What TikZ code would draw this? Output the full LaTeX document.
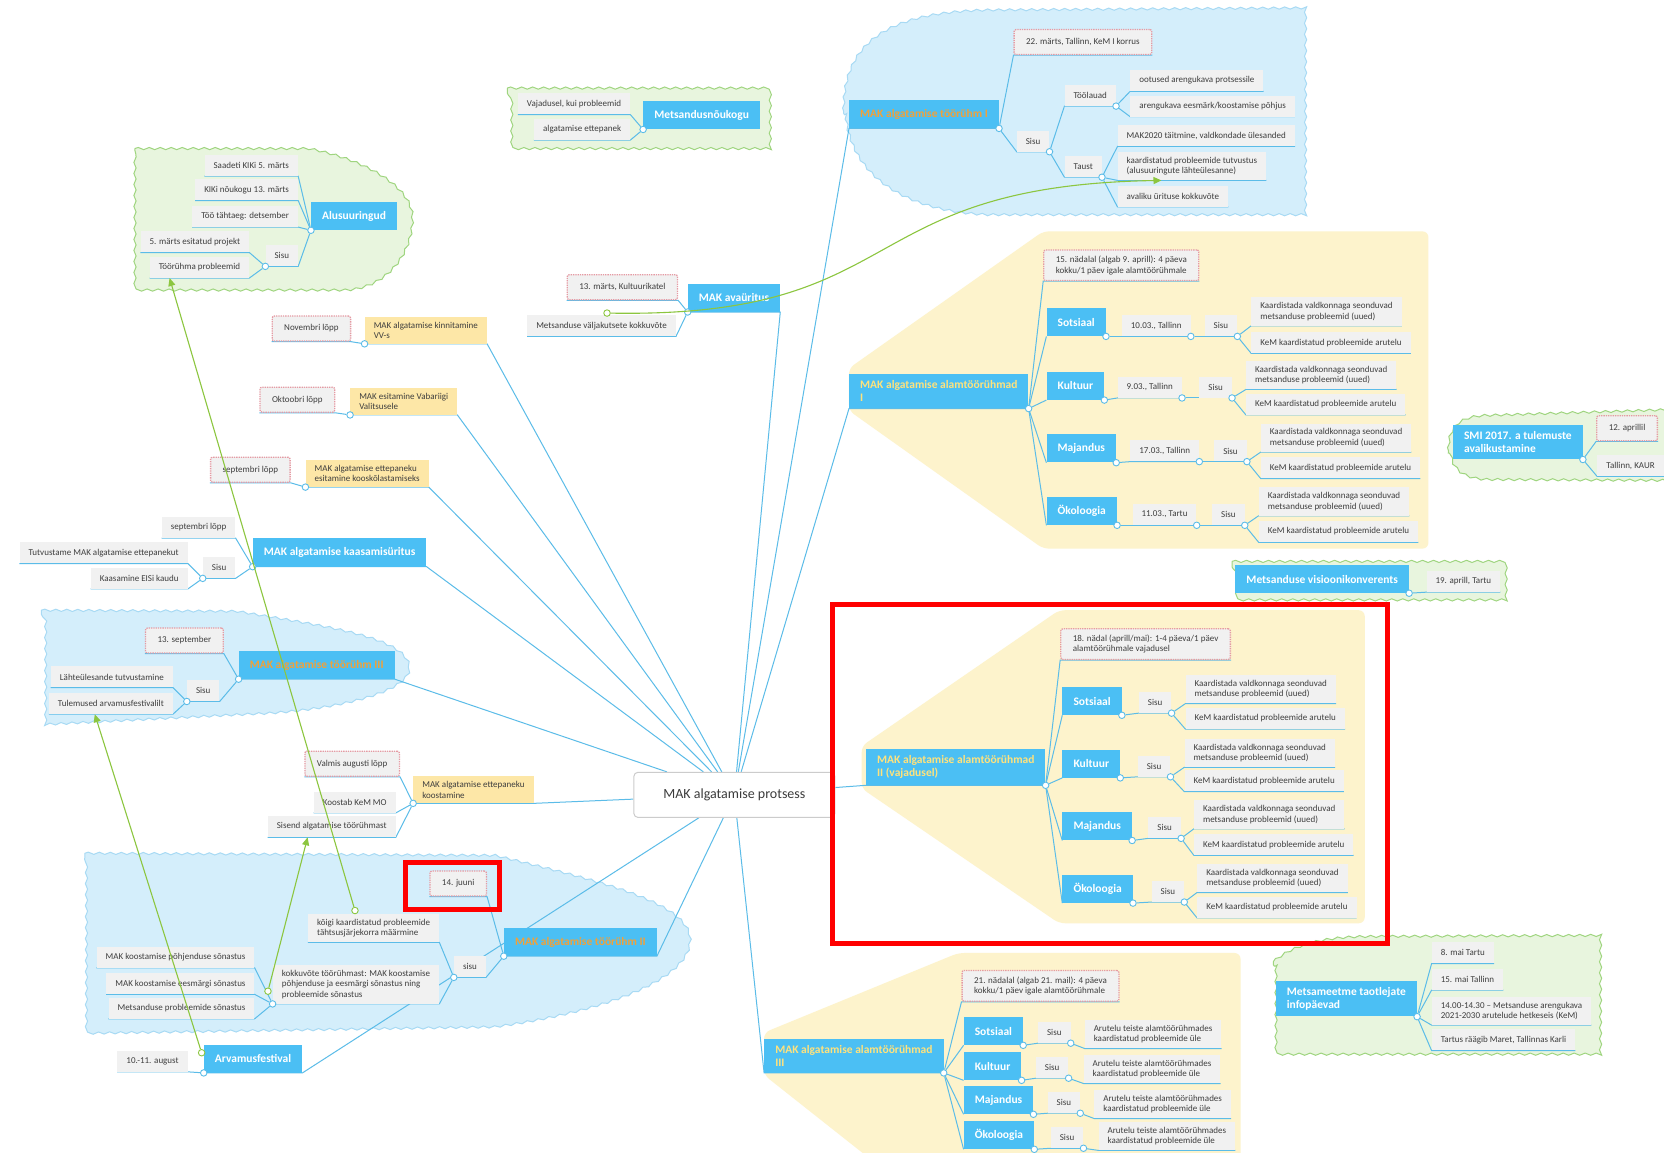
\documentclass[tikz,border=0pt]{standalone}
\usepackage{fontspec}
\setmainfont{Carlito}
\usetikzlibrary{arrows.meta,decorations.pathmorphing}
\pgfdeclarelayer{bg}
\pgfsetlayers{bg,main}
\definecolor{topicblue}{HTML}{4BBFF4}
\definecolor{lineblue}{HTML}{5BBCE8}
\definecolor{subgray}{HTML}{F1F1F1}
\definecolor{subtext}{HTML}{3E3E3E}
\definecolor{datered}{HTML}{E59AA3}
\definecolor{noteyellow}{HTML}{FDE7A7}
\definecolor{zoneyellow}{HTML}{FDF3CC}
\definecolor{orangetext}{HTML}{F0A13A}
\definecolor{yellowtext}{HTML}{FFE27C}
\definecolor{cloudb}{HTML}{D4EEFB}
\definecolor{cloudbline}{HTML}{A8DAF4}
\definecolor{cloudg}{HTML}{E8F5DE}
\definecolor{cloudgline}{HTML}{9FD57F}
\definecolor{relgreen}{HTML}{8CC63F}
\definecolor{roottext}{HTML}{3C3C3C}

\begin{document}
\begin{tikzpicture}[x=1.0612pt, y=-1.0612pt,
  central/.style={draw=gray!40, fill=white, rounded corners=4pt, line width=1pt, minimum width=201pt, minimum height=45pt, font=\fontsize{14}{16}\selectfont, text=roottext},
  sub/.style={fill=subgray, text=subtext, font=\fontsize{9}{10.5}\selectfont, inner xsep=9pt, inner ysep=5pt, minimum height=21pt, align=left},
  dat/.style={sub, draw=datered, densely dotted, line width=1.3pt, rounded corners=2pt, inner xsep=12pt, inner ysep=6pt, minimum height=25pt},
  note/.style={sub, fill=noteyellow},
  topic/.style={fill=topicblue, text=white, font=\fontsize{11.5}{13}\selectfont\bfseries, inner xsep=11pt, inner ysep=6.5pt, minimum height=28pt, align=left},
  otopic/.style={topic, text=orangetext},
  ytopic/.style={topic, text=yellowtext},
  jn/.style={circle, draw=lineblue, fill=white, line width=0.9pt, inner sep=0pt, minimum size=6.5pt},
  gdot/.style={circle, draw=relgreen, fill=white, line width=0.9pt, inner sep=0pt, minimum size=6.5pt},
  conn/.style={draw=lineblue, line width=1pt},
  rel/.style={draw=relgreen, line width=1.1pt, -{Triangle[length=8pt,width=7pt]}},
  bcloud/.style={fill=cloudb, draw=cloudbline, line width=1pt, decorate, decoration={snake, segment length=11pt, amplitude=1.1pt}},
  gcloud/.style={bcloud, fill=cloudg, draw=cloudgline},
  zone/.style={fill=zoneyellow, rounded corners=6pt},
  redbox/.style={draw=red, line width=5pt}]
\useasboundingbox (0,0) rectangle (1568,1086);

\node[central] (root) at (692,749) {MAK algatamise protsess};

% Alusuuringud
\node[topic, anchor=south west] (alu) at (293,217) {Alusuuringud};
\node[sub, anchor=south east] (alu1) at (281,166) {Saadeti KIKi 5. märts};
\node[sub, anchor=south east] (alu2) at (281,189) {KIKi nõukogu 13. märts};
\node[sub, anchor=south east] (alu3) at (281,214) {Töö tähtaeg: detsember};
\node[sub, anchor=south east] (alusisu) at (281,251) {Sisu};
\node[sub, anchor=south east] (alu4) at (235,238) {5. märts esitatud projekt};
\node[sub, anchor=south east] (alu5) at (235,262) {Töörühma probleemid};

% Metsandusnõukogu
\node[topic, anchor=south west] (mnk) at (606,122) {Metsandusnõukogu};
\node[sub, anchor=south east] (mnk1) at (594,108) {Vajadusel, kui probleemid};
\node[sub, anchor=south east] (mnk2) at (594,132) {algatamise ettepanek};

% avaüritus
\node[topic, anchor=south west] (ava) at (648,294) {MAK avaüritus};
\node[dat, anchor=south east] (ava1) at (639,283) {13. märts, Kultuurikatel};
\node[sub, anchor=south east] (ava2) at (637,317) {Metsanduse väljakutsete kokkuvõte};

% töörühm I
\node[otopic, anchor=south west] (tr1) at (800,121) {MAK algatamise töörühm I};
\node[dat, anchor=south west] (tr1a) at (955,52) {22. märts, Tallinn, KeM I korrus};
\node[sub, anchor=south west] (tr1s) at (958,143) {Sisu};
\node[sub, anchor=south west] (tr1t) at (1003,100) {Töölauad};
\node[sub, anchor=south west] (tr1u) at (1003,167) {Taust};
\node[sub, anchor=south west] (tr1t1) at (1065,86) {ootused arengukava protsessile};
\node[sub, anchor=south west] (tr1t2) at (1065,110) {arengukava eesmärk/koostamise põhjus};
\node[sub, anchor=south west] (tr1u1) at (1053,138) {MAK2020 täitmine, valdkondade ülesanded};
\node[sub, anchor=south west] (tr1u2) at (1053,170) {kaardistatud probleemide tutvustus\\(alusuuringute lähteülesanne)};
\node[sub, anchor=south west] (tr1u3) at (1053,195) {avaliku ürituse kokkuvõte};

% alamtöörühmad I
\node[ytopic, anchor=south west] (at1) at (800,385) {MAK algatamise alamtöörühmad\\I};
\node[dat, anchor=south west] (at1a) at (983,265) {15. nädalal (algab 9. aprill): 4 päeva\\kokku/1 päev igale alamtöörühmale};
\node[topic, anchor=south west] (so1) at (986,317) {Sotsiaal};
\node[sub, anchor=south west] (so1d) at (1057,317) {10.03., Tallinn};
\node[sub, anchor=south west] (so1s) at (1135,317) {Sisu};
\node[sub, anchor=south west] (so1k) at (1179,307) {Kaardistada valdkonnaga seonduvad\\metsanduse probleemid (uued)};
\node[sub, anchor=south west] (so1m) at (1179,333) {KeM kaardistatud probleemide arutelu};
\node[topic, anchor=south west] (ku1) at (986,377) {Kultuur};
\node[sub, anchor=south west] (ku1d) at (1053,375) {9.03., Tallinn};
\node[sub, anchor=south west] (ku1s) at (1130,375) {Sisu};
\node[sub, anchor=south west] (ku1k) at (1174,367) {Kaardistada valdkonnaga seonduvad\\metsanduse probleemid (uued)};
\node[sub, anchor=south west] (ku1m) at (1174,391) {KeM kaardistatud probleemide arutelu};
\node[topic, anchor=south west] (ma1) at (986,436) {Majandus};
\node[sub, anchor=south west] (ma1d) at (1065,435) {17.03., Tallinn};
\node[sub, anchor=south west] (ma1s) at (1144,435) {Sisu};
\node[sub, anchor=south west] (ma1k) at (1188,426) {Kaardistada valdkonnaga seonduvad\\metsanduse probleemid (uued)};
\node[sub, anchor=south west] (ma1m) at (1188,451) {KeM kaardistatud probleemide arutelu};
\node[topic, anchor=south west] (ok1) at (986,495) {Ökoloogia};
\node[sub, anchor=south west] (ok1d) at (1067,495) {11.03., Tartu};
\node[sub, anchor=south west] (ok1s) at (1142,495) {Sisu};
\node[sub, anchor=south west] (ok1k) at (1186,486) {Kaardistada valdkonnaga seonduvad\\metsanduse probleemid (uued)};
\node[sub, anchor=south west] (ok1m) at (1186,511) {KeM kaardistatud probleemide arutelu};

% SMI, visioonikonverents
\node[topic, anchor=south west] (smi) at (1369,433) {SMI 2017. a tulemuste\\avalikustamine};
\node[dat, anchor=south west] (smi1) at (1504,416) {12. aprillil};
\node[sub, anchor=south west] (smi2) at (1505,449) {Tallinn, KAUR};
\node[topic, anchor=south west] (vis) at (1164,559) {Metsanduse visioonikonverents};
\node[sub, anchor=south west] (vis1) at (1344,558) {19. aprill, Tartu};

% alamtöörühmad II
\node[ytopic, anchor=south west] (at2) at (816,740) {MAK algatamise alamtöörühmad\\II (vajadusel)};
\node[dat, anchor=south west] (at2a) at (999,622) {18. nädal (aprill/mai): 1-4 päeva/1 päev\\alamtöörühmale vajadusel};
\node[topic, anchor=south west] (so2) at (1001,674) {Sotsiaal};
\node[sub, anchor=south west] (so2s) at (1073,672) {Sisu};
\node[sub, anchor=south west] (so2k) at (1117,663) {Kaardistada valdkonnaga seonduvad\\metsanduse probleemid (uued)};
\node[sub, anchor=south west] (so2m) at (1117,687) {KeM kaardistatud probleemide arutelu};
\node[topic, anchor=south west] (ku2) at (1001,733) {Kultuur};
\node[sub, anchor=south west] (ku2s) at (1072,732) {Sisu};
\node[sub, anchor=south west] (ku2k) at (1116,723) {Kaardistada valdkonnaga seonduvad\\metsanduse probleemid (uued)};
\node[sub, anchor=south west] (ku2m) at (1116,746) {KeM kaardistatud probleemide arutelu};
\node[topic, anchor=south west] (ma2) at (1001,792) {Majandus};
\node[sub, anchor=south west] (ma2s) at (1082,790) {Sisu};
\node[sub, anchor=south west] (ma2k) at (1125,781) {Kaardistada valdkonnaga seonduvad\\metsanduse probleemid (uued)};
\node[sub, anchor=south west] (ma2m) at (1125,806) {KeM kaardistatud probleemide arutelu};
\node[topic, anchor=south west] (ok2) at (1001,851) {Ökoloogia};
\node[sub, anchor=south west] (ok2s) at (1085,850) {Sisu};
\node[sub, anchor=south west] (ok2k) at (1128,841) {Kaardistada valdkonnaga seonduvad\\metsanduse probleemid (uued)};
\node[sub, anchor=south west] (ok2m) at (1128,865) {KeM kaardistatud probleemide arutelu};

% alamtöörühmad III
\node[ytopic, anchor=south west] (at3) at (720,1011) {MAK algatamise alamtöörühmad\\III};
\node[dat, anchor=south west] (at3a) at (906,944) {21. nädalal (algab 21. mail): 4 päeva\\kokku/1 päev igale alamtöörühmale};
\node[topic, anchor=south west] (so3) at (908,985) {Sotsiaal};
\node[sub, anchor=south west] (so3s) at (978,983) {Sisu};
\node[sub, anchor=south west] (so3a) at (1022,988) {Arutelu teiste alamtöörühmades\\kaardistatud probleemide üle};
\node[topic, anchor=south west] (ku3) at (908,1018) {Kultuur};
\node[sub, anchor=south west] (ku3s) at (976,1016) {Sisu};
\node[sub, anchor=south west] (ku3a) at (1021,1021) {Arutelu teiste alamtöörühmades\\kaardistatud probleemide üle};
\node[topic, anchor=south west] (ma3) at (908,1050) {Majandus};
\node[sub, anchor=south west] (ma3s) at (987,1049) {Sisu};
\node[sub, anchor=south west] (ma3a) at (1031,1054) {Arutelu teiste alamtöörühmades\\kaardistatud probleemide üle};
\node[topic, anchor=south west] (ok3) at (908,1083) {Ökoloogia};
\node[sub, anchor=south west] (ok3s) at (990,1082) {Sisu};
\node[sub, anchor=south west] (ok3a) at (1035,1084) {Arutelu teiste alamtöörühmades\\kaardistatud probleemide üle};

% Metsameetme infopäevad
\node[topic, anchor=south west] (mm) at (1202,958) {Metsameetme taotlejate\\infopäevad};
\node[sub, anchor=south west] (mm1) at (1349,908) {8. mai Tartu};
\node[sub, anchor=south west] (mm2) at (1349,933) {15. mai Tallinn};
\node[sub, anchor=south west] (mm3) at (1349,966) {14.00-14.30 – Metsanduse arengukava\\2021-2030 arutelude hetkeseis (KeM)};
\node[sub, anchor=south west] (mm4) at (1349,990) {Tartus räägib Maret, Tallinnas Karli};

% vasak pool
\node[note, anchor=south east] (kinn) at (459,324) {MAK algatamise kinnitamine\\VV-s};
\node[dat, anchor=south east] (kinn1) at (331,322) {Novembri lõpp};
\node[note, anchor=south east] (vv) at (431,391) {MAK esitamine Vabariigi\\Valitsusele};
\node[dat, anchor=south east] (vv1) at (316,389) {Oktoobri lõpp};
\node[note, anchor=south east] (koos) at (404,459) {MAK algatamise ettepaneku\\esitamine kooskõlastamiseks};
\node[dat, anchor=south east] (koos1) at (274,455) {septembri lõpp};
\node[topic, anchor=south east] (kaas) at (402,534) {MAK algatamise kaasamisüritus};
\node[sub, anchor=south east] (kaas1) at (222,507) {septembri lõpp};
\node[sub, anchor=south east] (kaassisu) at (222,545) {Sisu};
\node[sub, anchor=south east] (kaas2) at (177,531) {Tutvustame MAK algatamise ettepanekut};
\node[sub, anchor=south east] (kaas3) at (177,555) {Kaasamine EISi kaudu};

\node[otopic, anchor=south east] (tr3) at (372,640) {MAK algatamise töörühm III};
\node[dat, anchor=south east] (tr3a) at (211,616) {13. september};
\node[sub, anchor=south east] (tr3s) at (207,661) {Sisu};
\node[sub, anchor=south east] (tr3s1) at (163,648) {Lähteülesande tutvustamine};
\node[sub, anchor=south east] (tr3s2) at (163,673) {Tulemused arvamusfestivalilt};

\node[note, anchor=south east] (ett) at (503,757) {MAK algatamise ettepaneku\\koostamine};
\node[dat, anchor=south east] (ett1) at (377,732) {Valmis augusti lõpp};
\node[sub, anchor=south east] (ett2) at (373,766) {Koostab KeM MO};
\node[sub, anchor=south east] (ett3) at (373,789) {Sisend algatamise töörühmast};

\node[otopic, anchor=south east] (tr2) at (619,901) {MAK algatamise töörühm II};
\node[dat, anchor=south east] (tr2a) at (459,845) {14. juuni};
\node[sub, anchor=south east] (tr2s) at (458,921) {sisu};
\node[sub, anchor=south east] (tr2s1) at (414,888) {kõigi kaardistatud probleemide\\tähtsusjärjekorra määrmine};
\node[sub, anchor=south east] (tr2s2) at (414,946) {kokkuvõte töörühmast: MAK koostamise\\põhjenduse ja eesmärgi sõnastus ning\\probleemide sõnastus};
\node[sub, anchor=south east] (tr2k1) at (240,912) {MAK koostamise põhjenduse sõnastus};
\node[sub, anchor=south east] (tr2k2) at (240,937) {MAK koostamise eesmärgi sõnastus};
\node[sub, anchor=south east] (tr2k3) at (240,960) {Metsanduse probleemide sõnastus};
\node[topic, anchor=south east] (arv) at (285,1011) {Arvamusfestival};
\node[sub, anchor=south east] (arv1) at (177,1010) {10.-11. august};

% junctions
\node[jn] (jalu) at (alu.south west) {};
\node[jn] (jalusisu) at (alusisu.south west) {};
\node[jn] (jmnk) at (mnk.south west) {};
\node[jn] (java) at (ava.south west) {};
\node[jn] (jkinn) at (kinn.south west) {};
\node[jn] (jvv) at (vv.south west) {};
\node[jn] (jkoos) at (koos.south west) {};
\node[jn] (jkaas) at (kaas.south west) {};
\node[jn] (jkaassisu) at (kaassisu.south west) {};
\node[jn] (jtr3) at (tr3.south west) {};
\node[jn] (jtr3s) at (tr3s.south west) {};
\node[jn] (jett) at (ett.south west) {};
\node[jn] (jtr2) at (tr2.south west) {};
\node[jn] (jtr2s) at (tr2s.south west) {};
\node[jn] (jtr2s2) at (tr2s2.south west) {};
\node[jn] (jarv) at (arv.south west) {};
\node[jn] (jtr1) at (tr1.south east) {};
\node[jn] (jtr1s) at (tr1s.south east) {};
\node[jn] (jtr1t) at (tr1t.south east) {};
\node[jn] (jtr1u) at (tr1u.south east) {};
\node[jn] (jat1) at (at1.south east) {};
\node[jn] (jso1) at (so1.south east) {};
\node[jn] (jso1d) at (so1d.south east) {};
\node[jn] (jso1s) at (so1s.south east) {};
\node[jn] (jku1) at (ku1.south east) {};
\node[jn] (jku1d) at (ku1d.south east) {};
\node[jn] (jku1s) at (ku1s.south east) {};
\node[jn] (jma1) at (ma1.south east) {};
\node[jn] (jma1d) at (ma1d.south east) {};
\node[jn] (jma1s) at (ma1s.south east) {};
\node[jn] (jok1) at (ok1.south east) {};
\node[jn] (jok1d) at (ok1d.south east) {};
\node[jn] (jok1s) at (ok1s.south east) {};
\node[jn] (jsmi) at (smi.south east) {};
\node[jn] (jvis) at (vis.south east) {};
\node[jn] (jat2) at (at2.south east) {};
\node[jn] (jso2) at (so2.south east) {};
\node[jn] (jso2s) at (so2s.south east) {};
\node[jn] (jku2) at (ku2.south east) {};
\node[jn] (jku2s) at (ku2s.south east) {};
\node[jn] (jma2) at (ma2.south east) {};
\node[jn] (jma2s) at (ma2s.south east) {};
\node[jn] (jok2) at (ok2.south east) {};
\node[jn] (jok2s) at (ok2s.south east) {};
\node[jn] (jat3) at (at3.south east) {};
\node[jn] (jso3) at (so3.south east) {};
\node[jn] (jso3s) at (so3s.south east) {};
\node[jn] (jku3) at (ku3.south east) {};
\node[jn] (jku3s) at (ku3s.south east) {};
\node[jn] (jma3) at (ma3.south east) {};
\node[jn] (jma3s) at (ma3s.south east) {};
\node[jn] (jok3) at (ok3.south east) {};
\node[jn] (jok3s) at (ok3s.south east) {};
\node[jn] (jmm) at (mm.south east) {};

\begin{pgfonlayer}{bg}
\fill[white] (0,0) rectangle (1568,1086);
% yellow zones
\fill[zone] (983,218) -- (1346,218) -- (1346,517) -- (983,517) -- (800,387) -- (800,347) -- cycle;
\fill[zone] (998,575) -- (1286,575) -- (1286,870) -- (998,870) -- (812,743) -- (812,703) -- cycle;
\fill[zone] (903,898) -- (1169,898) -- (1169,1100) -- (830,1100) -- (720,1013) -- (720,973) -- cycle;
% clouds
\draw[gcloud] (127,140) -- (290,140) .. controls (340,150) and (386,175) .. (386,205) .. controls (386,240) and (360,273) .. (320,273) -- (127,273) -- cycle;
\draw[gcloud] (478,83) -- (724,83) -- (724,137) -- (478,137) -- cycle;
\draw[bcloud] (795,105) .. controls (795,40) and (840,14) .. (930,12) -- (1230,10) -- (1230,208) -- (930,208) .. controls (850,205) and (795,170) .. (795,105) -- cycle;
\draw[gcloud] (1365,425) .. controls (1365,402) and (1378,395) .. (1400,394) -- (1590,388) -- (1590,457) -- (1400,456) .. controls (1375,455) and (1365,445) .. (1365,425) -- cycle;
\draw[gcloud] (1161,529) -- (1418,529) -- (1418,562) -- (1161,562) -- cycle;
\draw[gcloud] (1200,906) .. controls (1220,890) and (1250,884) .. (1290,884) -- (1508,883) -- (1508,996) -- (1200,996) -- cycle;
\draw[bcloud] (39,575) -- (219,576) .. controls (300,590) and (383,600) .. (383,630) .. controls (383,655) and (300,671) .. (236,673) -- (39,683) -- cycle;
\draw[bcloud] (80,804) -- (463,806) .. controls (560,830) and (648,850) .. (648,886) .. controls (648,925) and (560,955) .. (463,968) -- (80,974) -- cycle;

% lines from root
\draw[conn] (root) -- (kinn.south east) -- (kinn.south west);
\draw[conn] (root) -- (vv.south east) -- (vv.south west);
\draw[conn] (root) -- (koos.south east) -- (koos.south west);
\draw[conn] (root) -- (kaas.south east) -- (kaas.south west);
\draw[conn] (root) -- (tr3.south east) -- (tr3.south west);
\draw[conn] (root) -- (ett.south east) -- (ett.south west);
\draw[conn] (root) -- (tr2.south east) -- (tr2.south west);
\draw[conn] (root) -- (arv.south east) -- (arv.south west);
\draw[conn] (root) -- (ava.south east) -- (ava.south west);
\draw[conn] (root) -- (tr1.south west) -- (tr1.south east);
\draw[conn] (root) -- (at1.south west) -- (at1.south east);
\draw[conn] (root) -- (at2.south west) -- (at2.south east);
\draw[conn] (root) -- (at3.south west) -- (at3.south east);

% left branches
\draw[conn] (jalu) -- (alu1.south east) -- (alu1.south west);
\draw[conn] (jalu) -- (alu2.south east) -- (alu2.south west);
\draw[conn] (jalu) -- (alu3.south east) -- (alu3.south west);
\draw[conn] (jalu) -- (alusisu.south east) -- (alusisu.south west);
\draw[conn] (jalusisu) -- (alu4.south east) -- (alu4.south west);
\draw[conn] (jalusisu) -- (alu5.south east) -- (alu5.south west);
\draw[conn] (jmnk) -- (mnk1.south east) -- (mnk1.south west);
\draw[conn] (jmnk) -- (mnk2.south east) -- (mnk2.south west);
\draw[conn] (java) -- (ava1.south east) -- (ava1.south west);
\draw[conn] (java) -- (ava2.south east) -- (ava2.south west);
\draw[conn] (jkinn) -- (kinn1.south east) -- (kinn1.south west);
\draw[conn] (jvv) -- (vv1.south east) -- (vv1.south west);
\draw[conn] (jkoos) -- (koos1.south east) -- (koos1.south west);
\draw[conn] (jkaas) -- (kaas1.south east) -- (kaas1.south west);
\draw[conn] (jkaas) -- (kaassisu.south east) -- (kaassisu.south west);
\draw[conn] (jkaassisu) -- (kaas2.south east) -- (kaas2.south west);
\draw[conn] (jkaassisu) -- (kaas3.south east) -- (kaas3.south west);
\draw[conn] (jtr3) -- (tr3a.south east) -- (tr3a.south west);
\draw[conn] (jtr3) -- (tr3s.south east) -- (tr3s.south west);
\draw[conn] (jtr3s) -- (tr3s1.south east) -- (tr3s1.south west);
\draw[conn] (jtr3s) -- (tr3s2.south east) -- (tr3s2.south west);
\draw[conn] (jett) -- (ett1.south east) -- (ett1.south west);
\draw[conn] (jett) -- (ett2.south east) -- (ett2.south west);
\draw[conn] (jett) -- (ett3.south east) -- (ett3.south west);
\draw[conn] (jtr2) -- (tr2a.south east) -- (tr2a.south west);
\draw[conn] (jtr2) -- (tr2s.south east) -- (tr2s.south west);
\draw[conn] (jtr2s) -- (tr2s1.south east) -- (tr2s1.south west);
\draw[conn] (jtr2s) -- (tr2s2.south east) -- (tr2s2.south west);
\draw[conn] (jtr2s2) -- (tr2k1.south east) -- (tr2k1.south west);
\draw[conn] (jtr2s2) -- (tr2k2.south east) -- (tr2k2.south west);
\draw[conn] (jtr2s2) -- (tr2k3.south east) -- (tr2k3.south west);
\draw[conn] (jarv) -- (arv1.south east) -- (arv1.south west);

% right branches
\draw[conn] (jtr1) -- (tr1a.south west) -- (tr1a.south east);
\draw[conn] (jtr1) -- (tr1s.south west) -- (tr1s.south east);
\draw[conn] (jtr1s) -- (tr1t.south west) -- (tr1t.south east);
\draw[conn] (jtr1s) -- (tr1u.south west) -- (tr1u.south east);
\draw[conn] (jtr1t) -- (tr1t1.south west) -- (tr1t1.south east);
\draw[conn] (jtr1t) -- (tr1t2.south west) -- (tr1t2.south east);
\draw[conn] (jtr1u) -- (tr1u1.south west) -- (tr1u1.south east);
\draw[conn] (jtr1u) -- (tr1u2.south west) -- (tr1u2.south east);
\draw[conn] (jtr1u) -- (tr1u3.south west) -- (tr1u3.south east);

\draw[conn] (jat1) -- (at1a.south west) -- (at1a.south east);
\draw[conn] (jat1) -- (so1.south west);
\draw[conn] (jat1) -- (ku1.south west);
\draw[conn] (jat1) -- (ma1.south west);
\draw[conn] (jat1) -- (ok1.south west);
\draw[conn] (jso1) -- (so1d.south west) -- (so1d.south east);
\draw[conn] (jso1d) -- (so1s.south west) -- (so1s.south east);
\draw[conn] (jso1s) -- (so1k.south west) -- (so1k.south east);
\draw[conn] (jso1s) -- (so1m.south west) -- (so1m.south east);
\draw[conn] (jku1) -- (ku1d.south west) -- (ku1d.south east);
\draw[conn] (jku1d) -- (ku1s.south west) -- (ku1s.south east);
\draw[conn] (jku1s) -- (ku1k.south west) -- (ku1k.south east);
\draw[conn] (jku1s) -- (ku1m.south west) -- (ku1m.south east);
\draw[conn] (jma1) -- (ma1d.south west) -- (ma1d.south east);
\draw[conn] (jma1d) -- (ma1s.south west) -- (ma1s.south east);
\draw[conn] (jma1s) -- (ma1k.south west) -- (ma1k.south east);
\draw[conn] (jma1s) -- (ma1m.south west) -- (ma1m.south east);
\draw[conn] (jok1) -- (ok1d.south west) -- (ok1d.south east);
\draw[conn] (jok1d) -- (ok1s.south west) -- (ok1s.south east);
\draw[conn] (jok1s) -- (ok1k.south west) -- (ok1k.south east);
\draw[conn] (jok1s) -- (ok1m.south west) -- (ok1m.south east);

\draw[conn] (jsmi) -- (smi1.south west) -- (smi1.south east);
\draw[conn] (jsmi) -- (smi2.south west) -- (smi2.south east);
\draw[conn] (jvis) -- (vis1.south west) -- (vis1.south east);

\draw[conn] (jat2) -- (at2a.south west) -- (at2a.south east);
\draw[conn] (jat2) -- (so2.south west);
\draw[conn] (jat2) -- (ku2.south west);
\draw[conn] (jat2) -- (ma2.south west);
\draw[conn] (jat2) -- (ok2.south west);
\draw[conn] (jso2) -- (so2s.south west) -- (so2s.south east);
\draw[conn] (jso2s) -- (so2k.south west) -- (so2k.south east);
\draw[conn] (jso2s) -- (so2m.south west) -- (so2m.south east);
\draw[conn] (jku2) -- (ku2s.south west) -- (ku2s.south east);
\draw[conn] (jku2s) -- (ku2k.south west) -- (ku2k.south east);
\draw[conn] (jku2s) -- (ku2m.south west) -- (ku2m.south east);
\draw[conn] (jma2) -- (ma2s.south west) -- (ma2s.south east);
\draw[conn] (jma2s) -- (ma2k.south west) -- (ma2k.south east);
\draw[conn] (jma2s) -- (ma2m.south west) -- (ma2m.south east);
\draw[conn] (jok2) -- (ok2s.south west) -- (ok2s.south east);
\draw[conn] (jok2s) -- (ok2k.south west) -- (ok2k.south east);
\draw[conn] (jok2s) -- (ok2m.south west) -- (ok2m.south east);

\draw[conn] (jat3) -- (at3a.south west) -- (at3a.south east);
\draw[conn] (jat3) -- (so3.south west);
\draw[conn] (jat3) -- (ku3.south west);
\draw[conn] (jat3) -- (ma3.south west);
\draw[conn] (jat3) -- (ok3.south west);
\draw[conn] (jso3) -- (so3s.south west) -- (so3s.south east);
\draw[conn] (jso3s) -- (so3a.south west) -- (so3a.south east);
\draw[conn] (jku3) -- (ku3s.south west) -- (ku3s.south east);
\draw[conn] (jku3s) -- (ku3a.south west) -- (ku3a.south east);
\draw[conn] (jma3) -- (ma3s.south west) -- (ma3s.south east);
\draw[conn] (jma3s) -- (ma3a.south west) -- (ma3a.south east);
\draw[conn] (jok3) -- (ok3s.south west) -- (ok3s.south east);
\draw[conn] (jok3s) -- (ok3a.south west) -- (ok3a.south east);

\draw[conn] (jmm) -- (mm1.south west) -- (mm1.south east);
\draw[conn] (jmm) -- (mm2.south west) -- (mm2.south east);
\draw[conn] (jmm) -- (mm3.south west) -- (mm3.south east);
\draw[conn] (jmm) -- (mm4.south west) -- (mm4.south east);
\end{pgfonlayer}

% relationships
\node[gdot] (g1) at (334.5,858) {};
\node[gdot] (g2) at (252.5,934) {};
\node[gdot] (g3) at (190,992) {};
\node[gdot] (g4) at (572,295) {};
\draw[rel] (g1) -- ([xshift=20pt]alu5.south west);
\draw[rel] (g2) -- ([xshift=40pt]ett3.south west);
\draw[rel] (g3) -- ([xshift=46pt]tr3s2.south west);
\draw[rel] (g4) .. controls (860,300) and (800,175) .. ([xshift=44pt]tr1u2.south west);

\draw[redbox] (784,570) rectangle (1307,889);
\draw[redbox] (382,813) rectangle (471,857);
\end{tikzpicture}
\end{document}
